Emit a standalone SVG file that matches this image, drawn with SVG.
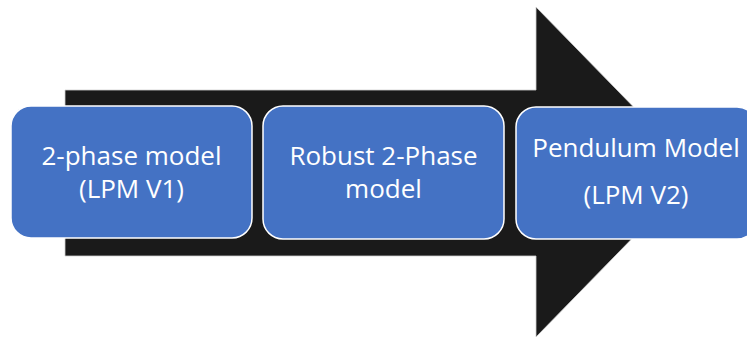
<svg xmlns="http://www.w3.org/2000/svg" width="747" height="338" viewBox="0 0 747 338">
  <style>
    .box { fill: #4472C4; stroke: #ffffff; stroke-width: 1.5; }
    .lbl { fill: #ffffff; font-family: "Open Sans", "Liberation Sans", sans-serif; font-size: 26px; text-anchor: middle; }
  </style>
  <rect width="747" height="338" fill="#ffffff"/>
  <!-- background block arrow -->
  <g id="connectors">
    <polygon points="65,90 536,90 536,7 697,172 536,337 536,256 65,256" fill="#1a1a1a" stroke="#cfcfcf" stroke-width="0.8"/>
  </g>
  <g id="node-lpm-v1">
    <rect class="box" x="11" y="106" width="241" height="132" rx="20"/>
    <text class="lbl" x="131.5" y="165">2-phase model</text>
    <text class="lbl" x="131.5" y="198">(LPM V1)</text>
  </g>
  <g id="node-robust">
    <rect class="box" x="263" y="106" width="241" height="133" rx="20"/>
    <text class="lbl" x="383.5" y="165">Robust 2-Phase</text>
    <text class="lbl" x="383.5" y="198">model</text>
  </g>
  <g id="node-lpm-v2">
    <rect class="box" x="516" y="107" width="241" height="132" rx="20"/>
    <text class="lbl" x="636" y="157">Pendulum Model</text>
    <text class="lbl" x="636" y="204">(LPM V2)</text>
  </g>
</svg>
